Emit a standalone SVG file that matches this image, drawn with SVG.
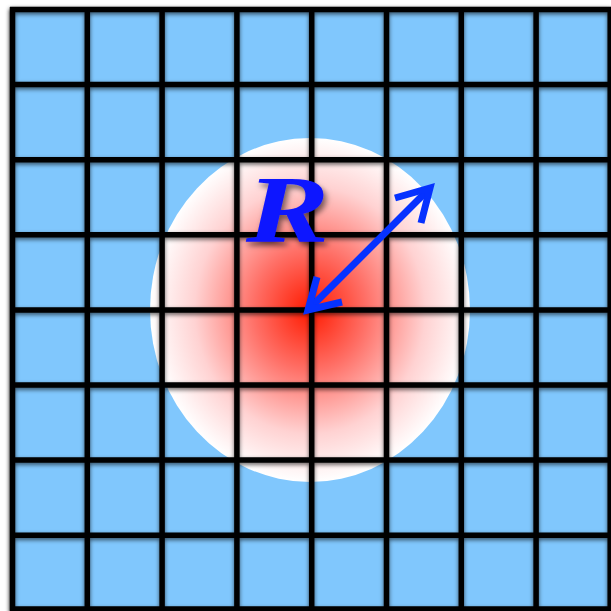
<svg xmlns="http://www.w3.org/2000/svg" width="611" height="611" viewBox="0 0 611 611">
<defs>
<radialGradient id="heat2" cx="0.5" cy="0.5" r="0.5">
<stop offset="0" stop-color="#ff1a00"/>
<stop offset="0.35" stop-color="#ff6f66"/>
<stop offset="0.72" stop-color="#ffd2d2"/>
<stop offset="1" stop-color="#ffffff"/>
</radialGradient>
<filter id="sh" x="-5%" y="-5%" width="110%" height="110%">
<feDropShadow dx="0" dy="2" stdDeviation="2" flood-color="#000" flood-opacity="0.6"/>
</filter>
<filter id="shR" x="-20%" y="-20%" width="140%" height="150%">
<feDropShadow dx="2" dy="4" stdDeviation="2.5" flood-color="#000" flood-opacity="0.55"/>
</filter>
</defs>
<style>
.grid line{stroke:#000;stroke-width:5.5}
.arrow{stroke:#0632ff;stroke-width:7;fill:none}
</style>
<rect width="611" height="611" fill="#fff"/>
<rect id="board" x="10" y="7" width="601" height="604" fill="#80c7fd" filter="url(#sh)"/>
<ellipse id="spot" cx="310" cy="310" rx="160" ry="172" fill="url(#heat2)"/>
<g class="grid" filter="url(#sh)">
<line x1="12.5" y1="7" x2="12.5" y2="611"/>
<line x1="87.3" y1="7" x2="87.3" y2="611"/>
<line x1="162.1" y1="7" x2="162.1" y2="611"/>
<line x1="236.9" y1="7" x2="236.9" y2="611"/>
<line x1="311.7" y1="7" x2="311.7" y2="611"/>
<line x1="386.5" y1="7" x2="386.5" y2="611"/>
<line x1="461.3" y1="7" x2="461.3" y2="611"/>
<line x1="536.1" y1="7" x2="536.1" y2="611"/>
<line x1="610.2" y1="7" x2="610.2" y2="611"/>
<line x1="10" y1="9.5" x2="611" y2="9.5"/>
<line x1="10" y1="84.6" x2="611" y2="84.6"/>
<line x1="10" y1="159.7" x2="611" y2="159.7"/>
<line x1="10" y1="234.8" x2="611" y2="234.8"/>
<line x1="10" y1="309.9" x2="611" y2="309.9"/>
<line x1="10" y1="385" x2="611" y2="385"/>
<line x1="10" y1="460.1" x2="611" y2="460.1"/>
<line x1="10" y1="535.2" x2="611" y2="535.2"/>
<line x1="10" y1="609" x2="611" y2="609"/>
</g>
<g id="radius-arrow">
<line class="arrow" x1="311" y1="307" x2="427" y2="191"/>
<path class="arrow" d="M395,198 L430,188 L421,223"/>
<path class="arrow" d="M317,277 L308,310 L342,302"/>
</g>
<text id="label-R" transform="translate(246 242) scale(1.3 1)" x="0" y="0" font-family="Liberation Serif, serif" font-weight="bold" font-style="italic" font-size="96" fill="#0a14ff" filter="url(#shR)">R</text>
</svg>
